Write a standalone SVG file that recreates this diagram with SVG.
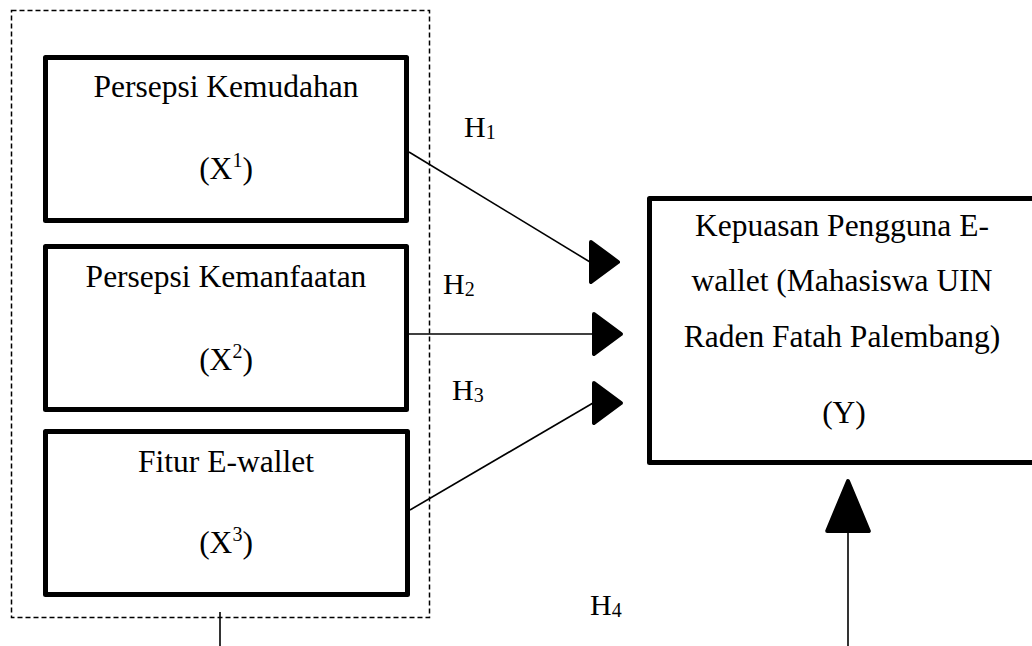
<svg xmlns="http://www.w3.org/2000/svg" width="1032" height="646" viewBox="0 0 1032 646">
<style>
.box{fill:#fff;stroke:#000;stroke-width:5;stroke-linejoin:round}
.group{fill:none;stroke:#000;stroke-width:1.5;stroke-dasharray:5 3}
.t{font-family:"Liberation Serif","Times New Roman",serif;font-size:31.5px;fill:#000;text-anchor:middle}
.h{font-family:"Liberation Serif","Times New Roman",serif;font-size:30px;fill:#000}
.sub{font-size:20px}
.conn{stroke:#000;stroke-width:1.6;fill:none}
</style>
<defs>
<marker id="ah" markerUnits="userSpaceOnUse" markerWidth="40" markerHeight="50" refX="2" refY="22" orient="0" viewBox="0 0 40 44">
<polygon points="3,2 30,22 3,42" fill="#000" stroke="#000" stroke-width="4" stroke-linejoin="round"/>
</marker>
<marker id="ahUp" markerUnits="userSpaceOnUse" markerWidth="48" markerHeight="56" refX="23" refY="52" orient="0" viewBox="0 0 46 54">
<polygon points="23,3 43,51 3,51" fill="#000" stroke="#000" stroke-width="4" stroke-linejoin="round"/>
</marker>
</defs>
<rect width="1032" height="646" fill="#fff"/>
<g id="independent-group">
<rect class="group" x="11.5" y="10.5" width="418" height="607"/>
</g>
<g id="x1">
<rect class="box" x="45.5" y="57.5" width="361" height="163"/>
<text class="t" x="226" y="97">Persepsi Kemudahan</text>
<text class="t" x="226" y="179">(X<tspan class="sub" dy="-12">1</tspan><tspan dy="12">)</tspan></text>
</g>
<g id="x2">
<rect class="box" x="45.5" y="246.5" width="361" height="163"/>
<text class="t" x="226" y="287">Persepsi Kemanfaatan</text>
<text class="t" x="226" y="370">(X<tspan class="sub" dy="-12">2</tspan><tspan dy="12">)</tspan></text>
</g>
<g id="x3">
<rect class="box" x="45.5" y="431.5" width="362" height="163"/>
<text class="t" x="226" y="472">Fitur E-wallet</text>
<text class="t" x="226" y="553">(X<tspan class="sub" dy="-12">3</tspan><tspan dy="12">)</tspan></text>
</g>
<g id="y">
<rect class="box" x="649.5" y="198.5" width="420" height="264"/>
<text class="t" x="842" y="236">Kepuasan Pengguna E-</text>
<text class="t" x="842" y="291">wallet (Mahasiswa UIN</text>
<text class="t" x="842" y="347">Raden Fatah Palembang)</text>
<text class="t" x="844" y="423">(Y)</text>
</g>
<g id="connectors">
<line class="conn" x1="409" y1="152" x2="590" y2="262" marker-end="url(#ah)"/>
<line class="conn" x1="409" y1="334" x2="593" y2="334" marker-end="url(#ah)"/>
<line class="conn" x1="410" y1="510" x2="593" y2="403" marker-end="url(#ah)"/>
<line class="conn" x1="848" y1="646" x2="848" y2="532" marker-end="url(#ahUp)"/>
<line class="conn" x1="220" y1="612" x2="220" y2="646"/>
</g>
<g id="labels">
<text class="h" x="464" y="137">H<tspan class="sub" dy="2">1</tspan></text>
<text class="h" x="443" y="294">H<tspan class="sub" dy="2">2</tspan></text>
<text class="h" x="452" y="400">H<tspan class="sub" dy="2">3</tspan></text>
<text class="h" x="590" y="615">H<tspan class="sub" dy="2">4</tspan></text>
</g>
</svg>
